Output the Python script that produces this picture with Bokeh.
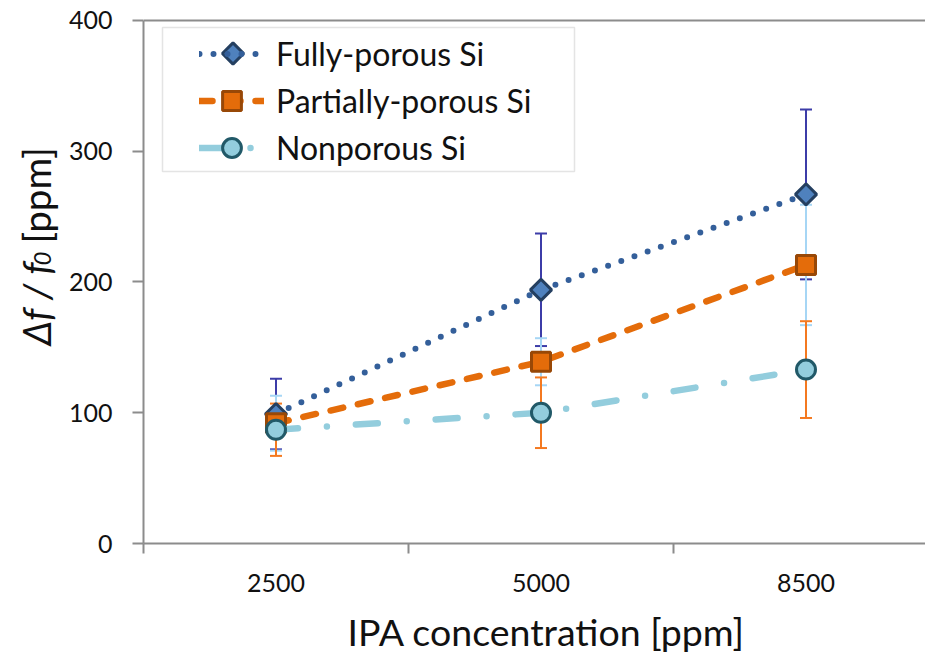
import numpy as np
from bokeh.plotting import figure
from bokeh.layouts import row, column
from bokeh.models import (ColumnDataSource, Whisker, TeeHead, Legend, LegendItem,
                          FixedTicker, Span, BoxAnnotation, Range1d)
from bokeh.core.properties import value
from bokeh.embed import file_html
from bokeh.resources import INLINE

# ---- data ----
categories = ["2500", "5000", "8500"]
fully = [99, 194, 267]
fully_err = [27, 43, 65]
partial = [92, 139, 213]
partial_err = [21, 18, 46]
nonporous = [87, 100, 133]
nonporous_err = [20, 27, 37]
y_ticks = [0, 100, 200, 300, 400]
series_names = ["Fully-porous Si", "Partially-porous Si", "Nonporous Si"]
x_title = "IPA concentration [ppm]"
y_title_parts = ["Δf / f", "0", "[ppm]"]

x = [i + 0.5 for i in range(len(categories))]

FONT = "Lato"
AXIS_C = "#8C8C8C"
TXT_C = "#111111"

# ---- layout constants (page pixels) ----
TOTAL_W, TOTAL_H = 925, 656
YW = 60                       # width of the y-title strip
FRAME_LEFT, FRAME_BOTTOM = 143, 543
H = 603                       # height of chart row
XH = TOTAL_H - H              # height of x-title strip
W = TOTAL_W - YW
BL = FRAME_LEFT - YW
BT = 18
BB = H - FRAME_BOTTOM
FRAME_W = W - BL
FRAME_H = H - BT - BB
CAT_W = 265.0
Y_END = 401.5
SCALE = FRAME_H / Y_END

def val(img_y):               # page row -> y value
    return (FRAME_BOTTOM - img_y) / SCALE

p = figure(width=W, height=H, output_backend="svg", toolbar_location=None,
           x_range=Range1d(0, FRAME_W / CAT_W), y_range=Range1d(0, Y_END),
           min_border_left=BL, min_border_right=0, min_border_top=BT,
           min_border_bottom=BB)
p.outline_line_color = None
p.xgrid.visible = False
p.ygrid.visible = False

# axes
p.yaxis.ticker = FixedTicker(ticks=y_ticks)
p.yaxis.bounds = (0, 400)
p.yaxis.axis_line_color = AXIS_C
p.yaxis.axis_line_width = 2
p.yaxis.major_tick_line_color = AXIS_C
p.yaxis.major_tick_line_width = 2
p.yaxis.major_tick_out = 11
p.yaxis.major_tick_in = 0
p.yaxis.minor_tick_line_color = None
p.yaxis.major_label_standoff = 20
p.yaxis.major_label_text_font = FONT
p.yaxis.major_label_text_font_size = "25px"
p.yaxis.major_label_text_color = TXT_C

p.xaxis.ticker = FixedTicker(ticks=x, minor_ticks=list(range(len(categories))))
p.xaxis.major_label_overrides = {xv: c for xv, c in zip(x, categories)}
p.xaxis.axis_line_color = AXIS_C
p.xaxis.axis_line_width = 2
p.xaxis.major_tick_line_color = None
p.xaxis.major_tick_out = 0
p.xaxis.major_tick_in = 0
p.xaxis.minor_tick_line_color = AXIS_C
p.xaxis.minor_tick_line_width = 2
p.xaxis.minor_tick_out = 10
p.xaxis.minor_tick_in = 0
p.xaxis.major_label_standoff = 20
p.xaxis.major_label_text_font = FONT
p.xaxis.major_label_text_font_size = "25px"
p.xaxis.major_label_text_color = TXT_C

p.add_layout(Span(location=400, dimension="width", line_color=AXIS_C, line_width=2))

# error bars
def add_err(vals, errs, color):
    src = ColumnDataSource(dict(x=x, upper=[v + e for v, e in zip(vals, errs)],
                                lower=[v - e for v, e in zip(vals, errs)]))
    w = Whisker(base="x", upper="upper", lower="lower", source=src,
                line_color=color, line_width=2,
                upper_head=TeeHead(size=12, line_color=color, line_width=2),
                lower_head=TeeHead(size=12, line_color=color, line_width=2))
    p.add_layout(w)

add_err(fully, fully_err, "#3C3CA8")
add_err(partial, partial_err, "#A6D6F5")
add_err(nonporous, nonporous_err, "#F47920")

# series
DIAMOND = dict(marker="square", angle=np.pi / 4, size=15,
               fill_color="#4F81BD", line_color="#243F60", line_width=3)
l1 = p.line(x, fully, line_color="#345F9A", line_width=6, line_dash="0 14", line_cap="round")
m1 = p.scatter(x, fully, **DIAMOND)
l2 = p.line(x, partial, line_color="#E46C0A", line_width=6.5, line_dash="13 15", line_cap="round")
m2 = p.scatter(x, partial, marker="square", size=19,
               fill_color="#E46C0A", line_color="#984807", line_width=3)
l3 = p.line(x, nonporous, line_color="#93CDDD", line_width=6.5, line_dash="22 29 0 29", line_cap="round")
m3 = p.scatter(x, nonporous, marker="circle", size=19,
               fill_color="#93CDDD", line_color="#215968", line_width=3)

# legend box
p.add_layout(BoxAnnotation(left=(162 - FRAME_LEFT) / CAT_W, right=(574 - FRAME_LEFT) / CAT_W,
                           top=val(27), bottom=val(171),
                           fill_color="white", fill_alpha=1, line_color="#A6A6A6", line_width=1.5))

LEG_PAD, ROW_H, GLYPH_W = 5, 47, 65
ROW1_Y, GLYPH_X0 = 53, 200          # page px: first row centre, glyph start
LEG_TOP = ROW1_Y - ROW_H / 2 - LEG_PAD - BT - 4.5
LEG_LEFT = GLYPH_X0 - LEG_PAD - FRAME_LEFT + 4
LEG_HEIGHT = 2 * LEG_PAD + 3 * ROW_H
legend = Legend(items=[LegendItem(label=series_names[0], renderers=[l1]),
                       LegendItem(label=series_names[1], renderers=[l2, m2]),
                       LegendItem(label=series_names[2], renderers=[l3, m3])],
                location=(LEG_LEFT, FRAME_H - LEG_TOP - LEG_HEIGHT),
                glyph_width=GLYPH_W, glyph_height=ROW_H, label_height=ROW_H,
                spacing=0, padding=LEG_PAD, margin=0, label_standoff=12,
                label_text_font=FONT, label_text_font_size="32px", label_text_color=TXT_C,
                border_line_color=None, background_fill_alpha=0)
p.add_layout(legend)

# rotated diamond for the first legend entry (legend glyphs are never rotated)
p.scatter([(GLYPH_X0 + GLYPH_W / 2 - FRAME_LEFT) / CAT_W], [val(ROW1_Y)], level="overlay", **DIAMOND)

# ---- y title strip (shares the y scale of the chart) ----
yf = figure(width=YW, height=H, output_backend="svg", toolbar_location=None, title=None,
            x_range=Range1d(0, YW), y_range=p.y_range,
            x_axis_type=None, y_axis_type=None,
            min_border_left=0, min_border_right=0, min_border_top=BT, min_border_bottom=BB)
yf.outline_line_color = None
S = 345          # page row where the title starts (bottom end)
yf.text(x=[35], y=[val(S)], text=[y_title_parts[0]], angle=np.pi / 2,
        text_font=value(FONT), text_font_size="38.5px", text_font_style="italic",
        text_align="left", text_baseline="middle", text_color=TXT_C)
yf.text(x=[42], y=[val(S - 87)], text=[y_title_parts[1]], angle=np.pi / 2,
        text_font=value(FONT), text_font_size="24px", text_font_style="italic",
        text_align="center", text_baseline="middle", text_color=TXT_C)
yf.text(x=[35], y=[val(S - 102)], text=[y_title_parts[2]], angle=np.pi / 2,
        text_font=value(FONT), text_font_size="38.5px",
        text_align="left", text_baseline="middle", text_color=TXT_C)

# ---- x title strip (shares the x scale of the chart) ----
xf = figure(width=TOTAL_W, height=XH, output_backend="svg", toolbar_location=None, title=None,
            x_range=p.x_range, y_range=Range1d(0, XH),
            x_axis_type=None, y_axis_type=None,
            min_border_left=FRAME_LEFT, min_border_right=TOTAL_W - FRAME_LEFT - FRAME_W,
            min_border_top=0, min_border_bottom=0)
xf.outline_line_color = None
xf.text(x=[(347 - FRAME_LEFT) / CAT_W], y=[TOTAL_H - 631], text=[x_title],
        text_font=value(FONT), text_font_size="37.5px",
        text_align="left", text_baseline="middle", text_color=TXT_C)

layout = column(row(yf, p, spacing=0), xf, spacing=0)
open("out.html", "w").write(file_html(layout, INLINE))
